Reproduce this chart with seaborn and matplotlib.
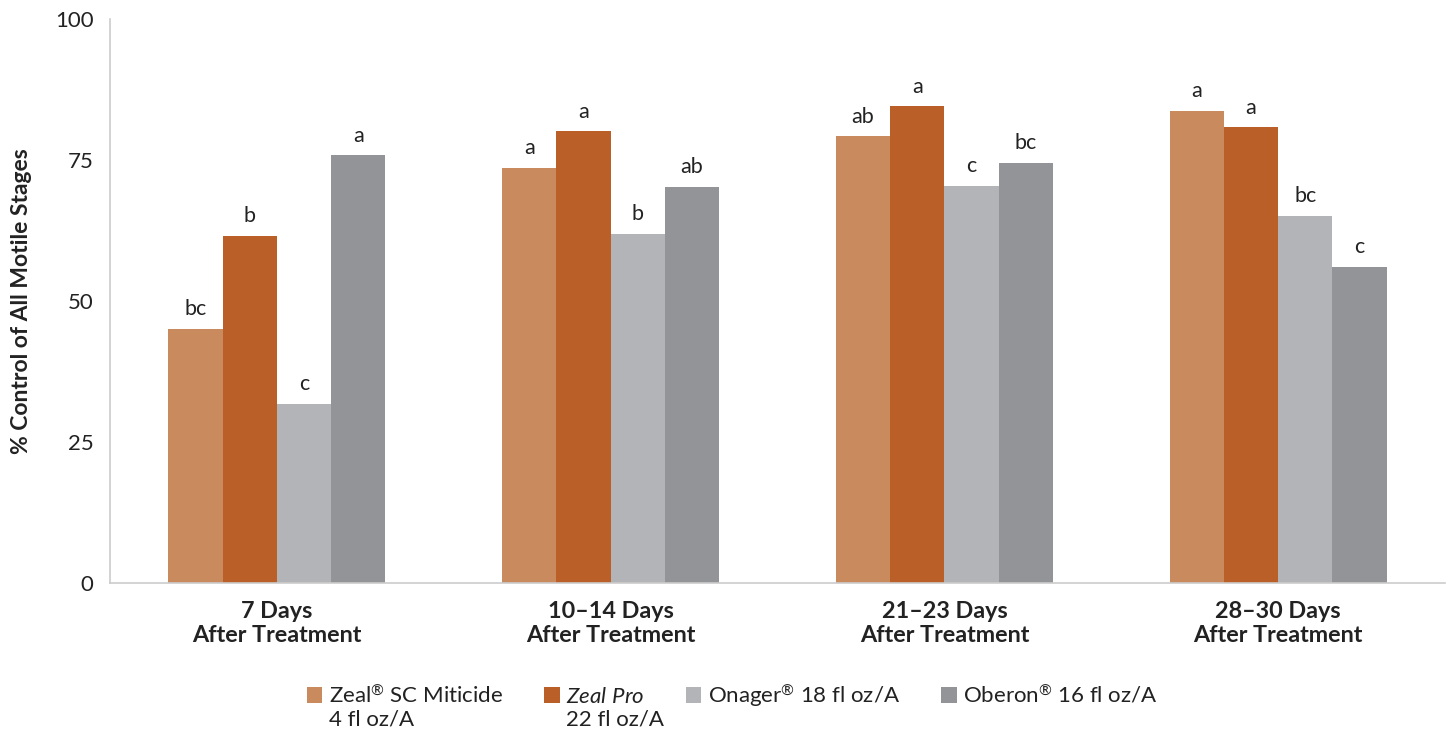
import matplotlib
matplotlib.use("Agg")
import matplotlib.pyplot as plt
import seaborn as sns
import pandas as pd

periods = ["7 Days\nAfter Treatment", "10–14 Days\nAfter Treatment",
           "21–23 Days\nAfter Treatment", "28–30 Days\nAfter Treatment"]
treatments = ["Zeal$^{\\mathrm{®}}$ SC Miticide", "$\\mathit{Zeal\\ Pro}$",
              "Onager$^{\\mathrm{®}}$ 18 fl oz/A", "Oberon$^{\\mathrm{®}}$ 16 fl oz/A"]
second_lines = ["4 fl oz/A", "22 fl oz/A", "", ""]
zeal_sc = [45.0, 73.6, 79.2, 83.7]
zeal_pro = [61.6, 80.1, 84.5, 80.8]
onager = [31.7, 61.9, 70.4, 65.1]
oberon = [75.8, 70.2, 74.5, 56.0]
letters = [["bc", "a", "ab", "a"],
           ["b", "a", "a", "a"],
           ["c", "b", "c", "bc"],
           ["a", "ab", "bc", "c"]]
colors = ["#C98A5E", "#B95F27", "#B3B4B7", "#939497"]

rows = []
for name, vals in zip(treatments, [zeal_sc, zeal_pro, onager, oberon]):
    for p, v in zip(periods, vals):
        rows.append({"period": p, "treatment": name, "value": v})
df = pd.DataFrame(rows)

sns.set_style("white")
plt.rcParams["font.family"] = ["Lato", "DejaVu Sans"]
plt.rcParams["mathtext.fontset"] = "custom"
plt.rcParams["mathtext.it"] = "Lato:italic"
plt.rcParams["mathtext.rm"] = "Lato"

txt = "#222222"
fig = plt.figure(figsize=(14.5, 7.33), dpi=100)
ax = fig.add_axes([110 / 1450, 1 - 583 / 733, 1335 / 1450, 564 / 733])

sns.barplot(data=df, x="period", y="value", hue="treatment", hue_order=treatments,
            order=periods, palette=colors, width=0.65, saturation=1, ax=ax,
            linewidth=0, legend=True)

for cont, labs in zip(ax.containers, letters):
    ax.bar_label(cont, labels=labs, padding=7, fontsize=15.5, color=txt)

ax.set_ylim(0, 100)
ax.set_xlim(-0.5, 3.5)
ax.set_yticks([0, 25, 50, 75, 100])
ax.tick_params(axis="y", labelsize=16, length=6, color="#cccccc", labelcolor=txt, pad=6)
ax.tick_params(axis="x", which="major", length=0, labelsize=16.8, pad=13, labelcolor=txt)
ax.set_xticks([-0.5, 0.5, 1.5, 2.5, 3.5], minor=True)
ax.tick_params(axis="x", which="minor", length=6, color="#cccccc")
for lab in ax.get_xticklabels():
    lab.set_fontweight("bold")
ax.set_xlabel("")
ax.set_ylabel("% Control of All Motile Stages", fontsize=16.5, fontweight="bold",
              color=txt, labelpad=16)
sns.despine(ax=ax)
for s in ["left", "bottom"]:
    ax.spines[s].set_color("#cccccc")
    ax.spines[s].set_linewidth(1.2)

handles, labels = ax.get_legend_handles_labels()
ax.get_legend().remove()
leg = fig.legend(handles, labels, loc="upper center", bbox_to_anchor=(0.505, 1 - 662 / 733),
                 ncol=4, frameon=False, fontsize=16, handlelength=0.7, handleheight=0.7,
                 handletextpad=0.3, columnspacing=1.85, labelcolor=txt)

fig.canvas.draw()
inv = fig.transFigure.inverted()
for t, extra in zip(leg.get_texts(), second_lines):
    if extra:
        bb = t.get_window_extent()
        x0, y0 = inv.transform((bb.x0, bb.y0))
        fig.text(x0, y0 - 3 / 733, extra, fontsize=16, color=txt, va="top", ha="left")

fig.savefig("out.png", dpi=100)
